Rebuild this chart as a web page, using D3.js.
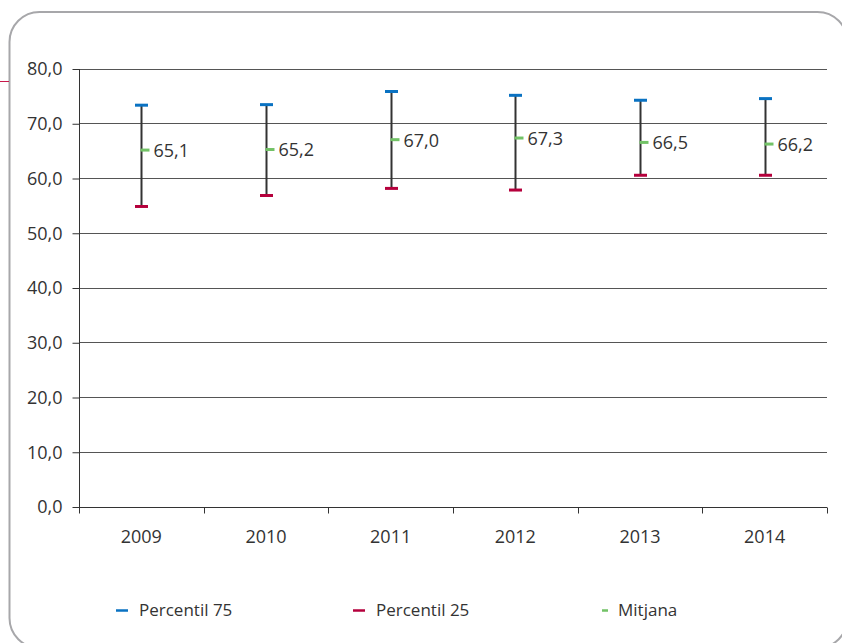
<!DOCTYPE html><meta charset="utf-8">
<html>
    <head>
        <title>Percentils i mitjana 2009-2014</title>
        <script src="https://d3js.org/d3.v7.min.js" type="text/JavaScript"></script>
        <style>
            body { margin: 0; background: #fff; }
            text { font-family: "Open Sans", "DejaVu Sans", sans-serif; fill: #333; }
        </style>
    </head>
    <body>

        <div>
            <svg id='viz'></svg>
        </div>

            <script>
                // values
                var years = ["2009", "2010", "2011", "2012", "2013", "2014"];
                var p75 = [73.3, 73.4, 75.8, 75.1, 74.2, 74.5];
                var p25 = [54.8, 56.8, 58.1, 57.8, 60.5, 60.5];
                var mitjana = [65.1, 65.2, 67.0, 67.3, 66.5, 66.2];
                var yTicks = [0, 10, 20, 30, 40, 50, 60, 70, 80];
                var legendLabels = ["Percentil 75", "Percentil 25", "Mitjana"];

                var width = 842;
                var height = 643;
                var blue = "#0a72c2";
                var red = "#b5003c";
                var green = "#72c266";

                var fmt = function(v) { return d3.format(".1f")(v).replace(".", ","); };

                var svg = d3.select("#viz").attr("width", width).attr("height", height);

                // frame round the chart (runs off the page on the right and bottom)
                svg.append("rect")
                    .attr("x", 9.5).attr("y", 12)
                    .attr("width", 838).attr("height", 636)
                    .attr("rx", 30).attr("ry", 30)
                    .attr("fill", "none")
                    .attr("stroke", "#a7a7aa")
                    .attr("stroke-width", 2);

                // stray red line at the left edge
                svg.append("line")
                    .attr("x1", 0).attr("x2", 9)
                    .attr("y1", 81.5).attr("y2", 81.5)
                    .attr("stroke", "#c8194b").attr("stroke-width", 1);

                var x = d3.scaleBand().domain(years).range([79, 827]).padding(0);
                var y = d3.scaleLinear().domain([0, 80]).range([506.5, 68.5]);

                // gridlines
                svg.append("g").attr("class", "grid")
                    .selectAll("line")
                    .data(yTicks.slice(1))
                    .enter()
                    .append("line")
                    .attr("x1", 79).attr("x2", 827)
                    .attr("y1", function(d) { return Math.round(y(d)) + 0.5; })
                    .attr("y2", function(d) { return Math.round(y(d)) + 0.5; })
                    .attr("stroke", "#555")
                    .attr("stroke-width", 1);

                // y axis
                var yAxis = svg.append("g")
                    .attr("transform", "translate(79.5,0.5)")
                    .call(d3.axisLeft(y).tickValues(yTicks).tickFormat(fmt).tickSize(7).tickPadding(10));
                yAxis.select(".domain").attr("stroke", "#333").attr("d", "M0," + y(80) + "V" + y(0));
                yAxis.selectAll(".tick line").attr("stroke", "#333");
                yAxis.selectAll("text").style("font-size", "18px").attr("fill", "#333");

                // x axis, ticks between the categories
                var xAxis = svg.append("g").attr("transform", "translate(0," + (Math.round(y(0)) + 0.5) + ")");
                xAxis.append("line")
                    .attr("x1", 79).attr("x2", 827)
                    .attr("stroke", "#333");
                xAxis.selectAll(".xt")
                    .data(years.concat(["end"]))
                    .enter()
                    .append("line")
                    .attr("class", "xt")
                    .attr("x1", function(d, i) { return Math.round(79 + i * x.bandwidth()) + 0.5; })
                    .attr("x2", function(d, i) { return Math.round(79 + i * x.bandwidth()) + 0.5; })
                    .attr("y1", 0).attr("y2", 6)
                    .attr("stroke", "#333");
                xAxis.selectAll(".xl")
                    .data(years)
                    .enter()
                    .append("text")
                    .attr("class", "xl")
                    .attr("x", function(d) { return x(d) + x.bandwidth() / 2; })
                    .attr("y", 35)
                    .attr("text-anchor", "middle")
                    .style("font-size", "18px")
                    .text(function(d) { return d; });

                var cx = function(i) { return Math.round(x(years[i]) + x.bandwidth() / 2) + 0.5; };

                var bars = svg.append("g").attr("class", "bars")
                    .selectAll("g")
                    .data(years)
                    .enter()
                    .append("g");

                // vertical range line
                bars.append("line")
                    .attr("x1", function(d, i) { return cx(i); })
                    .attr("x2", function(d, i) { return cx(i); })
                    .attr("y1", function(d, i) { return y(p75[i]); })
                    .attr("y2", function(d, i) { return y(p25[i]); })
                    .attr("stroke", "#333")
                    .attr("stroke-width", 2);

                // percentile caps
                bars.append("line")
                    .attr("x1", function(d, i) { return cx(i) - 6.5; })
                    .attr("x2", function(d, i) { return cx(i) + 6.5; })
                    .attr("y1", function(d, i) { return y(p75[i]); })
                    .attr("y2", function(d, i) { return y(p75[i]); })
                    .attr("stroke", blue).attr("stroke-width", 3);

                bars.append("line")
                    .attr("x1", function(d, i) { return cx(i) - 6.5; })
                    .attr("x2", function(d, i) { return cx(i) + 6.5; })
                    .attr("y1", function(d, i) { return y(p25[i]); })
                    .attr("y2", function(d, i) { return y(p25[i]); })
                    .attr("stroke", red).attr("stroke-width", 3);

                // mean marker + label
                bars.append("line")
                    .attr("x1", function(d, i) { return cx(i) - 1; })
                    .attr("x2", function(d, i) { return cx(i) + 8; })
                    .attr("y1", function(d, i) { return y(mitjana[i]); })
                    .attr("y2", function(d, i) { return y(mitjana[i]); })
                    .attr("stroke", green).attr("stroke-width", 3);

                bars.append("text")
                    .attr("x", function(d, i) { return cx(i) + 12; })
                    .attr("y", function(d, i) { return y(mitjana[i]); })
                    .attr("dy", "0.38em")
                    .style("font-size", "18px")
                    .text(function(d, i) { return fmt(mitjana[i]); });

                // legend
                var legendX = [116, 353, 602];
                var legendW = [12, 12, 6];
                var legendC = [blue, red, green];
                var legend = svg.append("g").attr("class", "legend")
                    .selectAll("g")
                    .data(legendLabels)
                    .enter()
                    .append("g")
                    .attr("transform", function(d, i) { return "translate(" + legendX[i] + ",610.5)"; });
                legend.append("line")
                    .attr("x1", 0).attr("x2", function(d, i) { return legendW[i]; })
                    .attr("stroke", function(d, i) { return legendC[i]; })
                    .attr("stroke-width", 2.5);
                legend.append("text")
                    .attr("x", function(d, i) { return legendW[i] + (i == 2 ? 10 : 11); })
                    .attr("dy", "0.35em")
                    .style("font-size", "17px")
                    .text(function(d) { return d; });

            </script>

    </body>
</html>
